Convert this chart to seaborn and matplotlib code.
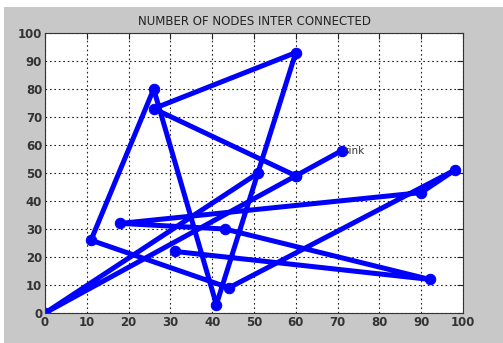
import matplotlib
matplotlib.use("Agg")
import matplotlib.pyplot as plt
import seaborn as sns
import pandas as pd
from matplotlib.patches import Rectangle

# node coordinates, in drawing order
route1_x = [71, 60, 26, 60, 41, 26, 11, 44, 98, 90, 18, 43, 92, 31]
route1_y = [58, 49, 73, 93, 3, 80, 26, 9, 51, 43, 32, 30, 12, 22]
route2_x = [51, 0, 60]
route2_y = [50, 0, 49]
ticks = list(range(0, 101, 10))

df = pd.DataFrame({
    "x": route1_x + route2_x,
    "y": route1_y + route2_y,
    "route": [1] * len(route1_x) + [2] * len(route2_x),
})

sns.set_theme(style="white")
plt.rcParams['font.family'] = ['DejaVu Sans']

fig = plt.figure(figsize=(5.03, 3.43), dpi=100)
fig.patch.set_facecolor("white")
fig.patches.append(Rectangle((4 / 503, 0), 1, 336 / 343, transform=fig.transFigure,
                             facecolor="#c8c8c8", edgecolor="none", zorder=-1))
ax = fig.add_axes([45 / 503, 30 / 343, 418 / 503, 280 / 343])
ax.set_facecolor("white")

sns.lineplot(data=df, x="x", y="y", units="route", estimator=None, sort=False,
             color="#0000ff", linewidth=3.6, marker="o", markersize=7.5,
             markeredgecolor="#0000ff", ax=ax, legend=False)

ax.text(71.5, 58, "sink", fontsize=7.5, color="#333333", va="center", ha="left")

ax.set_xlim(0, 100)
ax.set_ylim(0, 100)
ax.set_xticks(ticks)
ax.set_yticks(ticks)
ax.set_xlabel("")
ax.set_ylabel("")
ax.grid(True, color="#222222", linestyle=(0, (1.5, 2.5)), linewidth=0.8)
ax.set_axisbelow(True)
ax.tick_params(direction="in", length=4, width=0.8, colors="#222222",
               labelsize=8.5, top=True, right=True, pad=2)
for lab in ax.get_xticklabels() + ax.get_yticklabels():
    lab.set_fontweight("bold")
    lab.set_color("#333333")
for sp in ax.spines.values():
    sp.set_color("#333333")
    sp.set_linewidth(0.8)

ax.set_title("NUMBER OF NODES INTER CONNECTED", fontsize=8.5, color="#222222", pad=6)

fig.savefig("out.png", dpi=100, facecolor=fig.get_facecolor())
